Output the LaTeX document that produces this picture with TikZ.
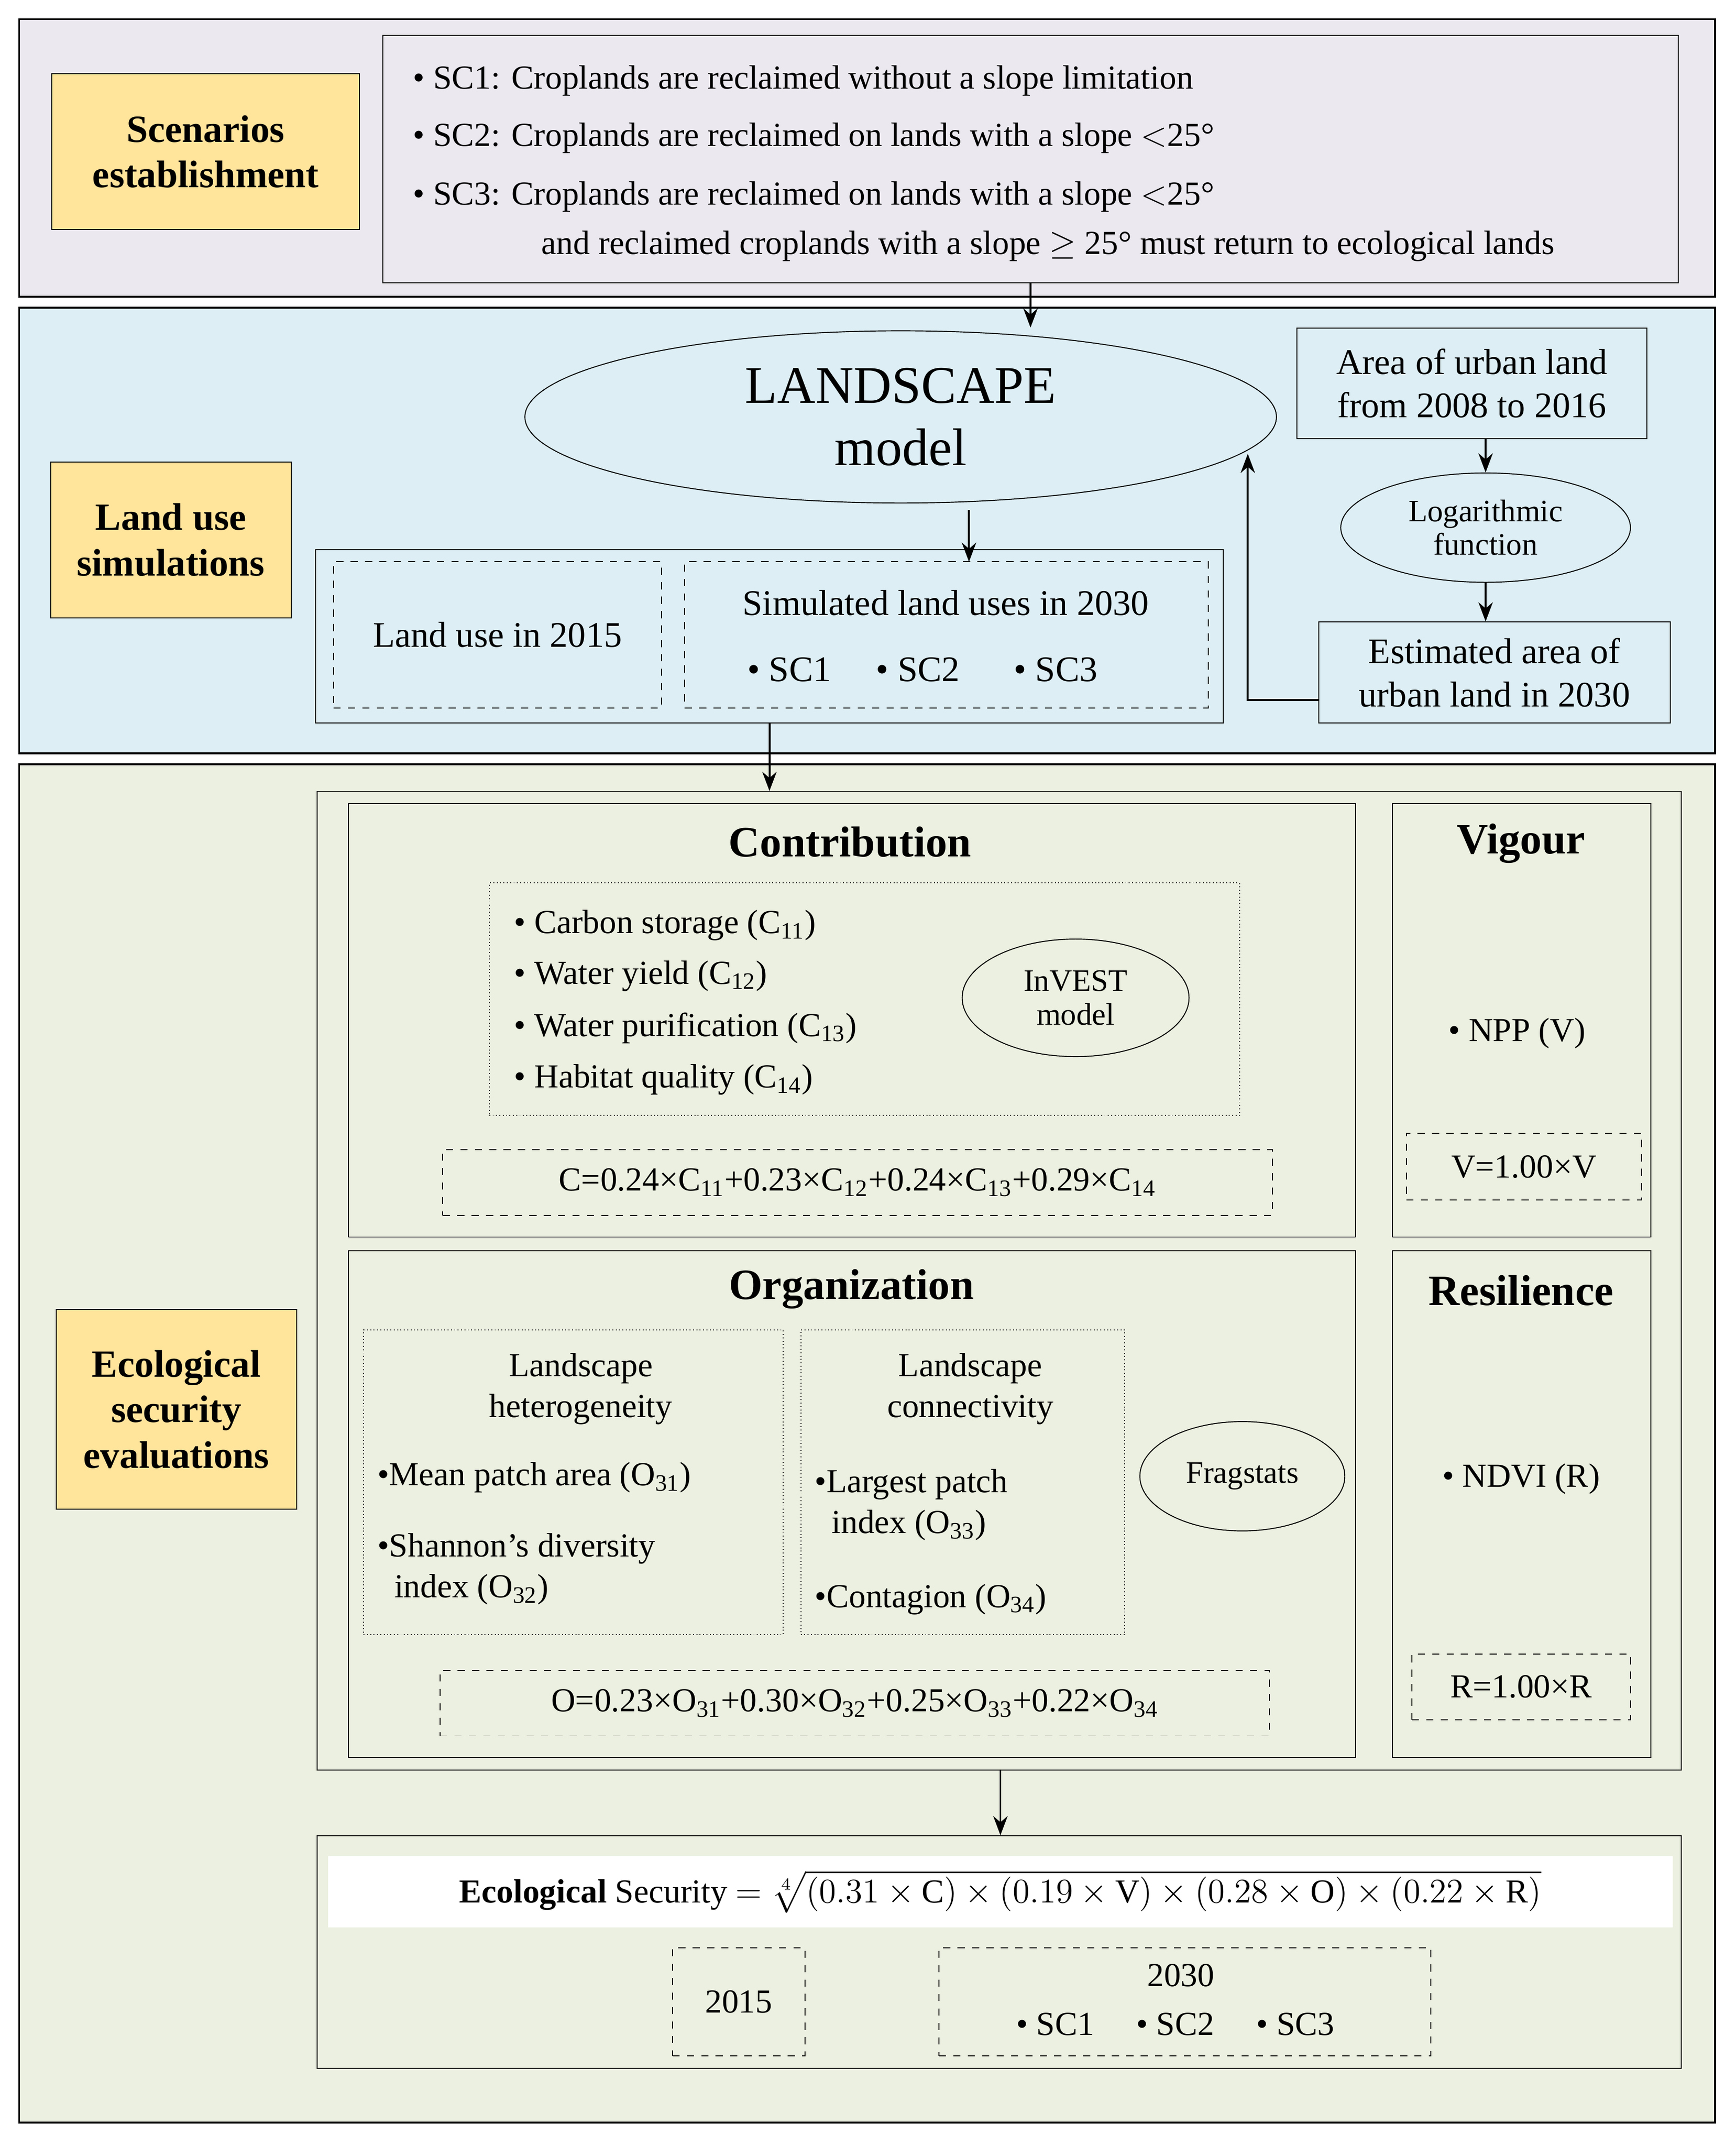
\documentclass[tikz,border=0pt]{standalone}
\usepackage{fontspec}
\setmainfont{Liberation Serif}
\usepackage{amsmath}
\usetikzlibrary{shapes, positioning, fit, arrows.meta}
\definecolor{lavender}{HTML}{ECE8F0}
\definecolor{skyband}{HTML}{DDEEF4}
\definecolor{sageband}{HTML}{EBF0E0}
\definecolor{labelyellow}{HTML}{FFE49C}
\newcommand{\bul}{\textbullet\ }
\newcommand{\sbs}[1]{\textsubscript{#1}}

\begin{document}
\begin{tikzpicture}[x=0.02cm, y=-0.02cm,
    panel/.style={draw, thick, inner sep=0pt},
    box/.style={draw, inner sep=0pt},
    dbox/.style={draw, dashed, inner sep=0pt},
    tbox/.style={draw, densely dotted, inner sep=0pt},
    tag/.style={draw, fill=labelyellow, inner sep=0pt, font=\fontsize{16}{19}\selectfont\bfseries, align=center},
    head/.style={font=\fontsize{18}{21}\selectfont\bfseries},
    txt/.style={font=\fontsize{14}{17}\selectfont, align=center},
    oval/.style={draw, ellipse, inner sep=0pt},
    arr/.style={-{Stealth[length=8pt]}, thick}]
\useasboundingbox (0,0) rectangle (1270,1570);

% Scenarios
\node[panel, fill=lavender, fit={(14,14)(1255,217)}] (scen) {};
\node[box, fit={(280,26)(1228,207)}] (list) {};
\node[tag, fit={(38,54)(263,168)}] (tagscen) {};
\node[tag, draw=none, fill=none] at (tagscen.center) {Scenarios\\establishment};
\node[txt, anchor=west] at (296,59) {\bul SC1: Croplands are reclaimed without a slope limitation};
\node[txt, anchor=west] at (296,101) {\bul SC2: Croplands are reclaimed on lands with a slope $<$25°};
\node[txt, anchor=west] at (296,144) {\bul SC3: Croplands are reclaimed on lands with a slope $<$25°};
\node[txt, anchor=west] at (390,180) {and reclaimed croplands with a slope $\geq$ 25° must return to ecological lands};

% Land use simulations
\node[panel, fill=skyband, fit={(14,225)(1255,551)}] (sim) {};
\node[tag, fit={(37,338)(213,452)}] (tagsim) {};
\node[tag, draw=none, fill=none] at (tagsim.center) {Land use\\simulations};
\node[oval, minimum height=2.52cm, minimum width=11cm,
      font=\fontsize{22}{26}\selectfont, align=center] (land) at (659,305) {LANDSCAPE\\model};
\node[box, fit={(949,240)(1205,321)}] (area) {};
\node[txt, font=\fontsize{15}{18}\selectfont] at (area.center) {Area of urban land\\from 2008 to 2016};
\node[oval, minimum width=4.24cm, minimum height=1.6cm, txt, font=\fontsize{13}{14}\selectfont] (logf) at (1087,386) {Logarithmic\\function};
\node[box, fit={(965,455)(1222,529)}] (est) {};
\node[txt, font=\fontsize{15}{18}\selectfont] at (est.center) {Estimated area of\\urban land in 2030};
\node[box, fit={(231,402)(895,529)}] (uses) {};
\node[dbox, fit={(244,411)(484,518)}] (lu15) {};
\node[txt, font=\fontsize{15}{18}\selectfont] at (lu15.center) {Land use in 2015};
\node[dbox, fit={(501,411)(884,518)}] (lu30) {};
\node[txt, font=\fontsize{15}{18}\selectfont] at (692,441) {Simulated land uses in 2030};
\node[txt, font=\fontsize{15}{18}\selectfont] at (675,490) {\bul SC1 \quad \bul SC2 \quad\ \bul SC3};
\coordinate (bend) at (913,512);
\draw[arr] (area.south -| logf.north) -- (logf.north);
\draw[arr] (logf.south) -- (logf.south |- est.north);
\draw[arr] (est.west |- bend) -- (bend) -- (913,332);
\draw[arr] (list.south) -- (list.south |- area.north);
\draw[arr] (709,373) -- (709,411);

% Ecological security evaluations
\node[panel, fill=sageband, fit={(14,559)(1255,1553)}] (eval) {};
\node[tag, fit={(41,958)(217,1104)}] (tageval) {};
\node[tag, draw=none, fill=none] at (tageval.center) {Ecological\\security\\evaluations};
\node[box, fit={(232,579)(1230,1295)}] (index) {};
\draw[arr] (uses.south) -- (uses.south |- index.north);
\node[box, fit={(255,588)(992,905)}] (contr) {};
\node[box, fit={(1019,588)(1208,905)}] (vig) {};
\node[box, fit={(255,915)(992,1286)}] (org) {};
\node[box, fit={(1019,915)(1208,1286)}] (res) {};

% Contribution
\node[head] at (622,616) {Contribution};
\node[tbox, fit={(358,646)(907,816)}] (svc) {};
\node[txt, anchor=west] at (370,677) {\bul Carbon storage (C\sbs{11})};
\node[txt, anchor=west] at (370,714) {\bul Water yield (C\sbs{12})};
\node[txt, anchor=west] at (370,752) {\bul Water purification (C\sbs{13})};
\node[txt, anchor=west] at (370,790) {\bul Habitat quality (C\sbs{14})};
\node[oval, minimum width=3.32cm, minimum height=1.72cm, txt, font=\fontsize{13}{14}\selectfont] (invest) at (787,730) {InVEST\\model};
\node[dbox, fit={(324,841)(931,889)}] (cform) {};
\node[txt] at (cform.center) {C=0.24×C\sbs{11}+0.23×C\sbs{12}+0.24×C\sbs{13}+0.29×C\sbs{14}};

% Vigour
\node[head] at (1113,617) {Vigour};
\node[txt] at (1110,756) {\bul NPP (V)};
\node[dbox, fit={(1029,829)(1201,878)}] (vform) {};
\node[txt] at (vform.center) {V=1.00×V};

% Organization
\node[head] at (623,943) {Organization};
\node[tbox, fit={(266,973)(573,1196)}] (het) {};
\node[txt] at (425,1016) {Landscape\\heterogeneity};
\node[txt, anchor=west] at (270,1081) {\textbullet Mean patch area (O\sbs{31})};
\node[txt, anchor=west, align=left] at (270,1148) {\textbullet Shannon’s diversity\\\ \ index (O\sbs{32})};
\node[tbox, fit={(586,973)(823,1196)}] (con) {};
\node[txt] at (710,1016) {Landscape\\connectivity};
\node[txt, anchor=west, align=left] at (590,1101) {\textbullet Largest patch\\\ \ index (O\sbs{33})};
\node[txt, anchor=west] at (590,1170) {\textbullet Contagion (O\sbs{34})};
\node[oval, minimum width=3cm, minimum height=1.6cm, txt, font=\fontsize{13}{14}\selectfont] (frag) at (909,1080) {Fragstats};
\node[dbox, fit={(322,1222)(929,1270)}] (oform) {};
\node[txt] at (oform.center) {O=0.23×O\sbs{31}+0.30×O\sbs{32}+0.25×O\sbs{33}+0.22×O\sbs{34}};

% Resilience
\node[head] at (1113,944) {Resilience};
\node[txt] at (1113,1082) {\bul NDVI (R)};
\node[dbox, fit={(1033,1210)(1193,1258)}] (rform) {};
\node[txt] at (rform.center) {R=1.00×R};

% Ecological security
\node[box, fit={(232,1343)(1230,1513)}] (es) {};
\draw[arr] (index.south -| 732,0) -- (es.north -| 732,0);
\node[fill=white, inner sep=0pt, fit={(240,1358)(1224,1410)}] (strip) {};
\node[txt] at (strip.center) {\textbf{Ecological} Security $=\sqrt[4]{(0.31\times\mathrm{C})\times(0.19\times\mathrm{V})\times(0.28\times\mathrm{O})\times(0.22\times\mathrm{R})}$};
\node[dbox, fit={(492,1425)(589,1504)}] (es15) {};
\node[txt] at (es15.center) {2015};
\node[dbox, fit={(687,1425)(1047,1504)}] (es30) {};
\node[txt] at (864,1445) {2030};
\node[txt] at (860,1481) {\bul SC1 \quad \bul SC2 \quad \bul SC3};
\end{tikzpicture}
\end{document}
